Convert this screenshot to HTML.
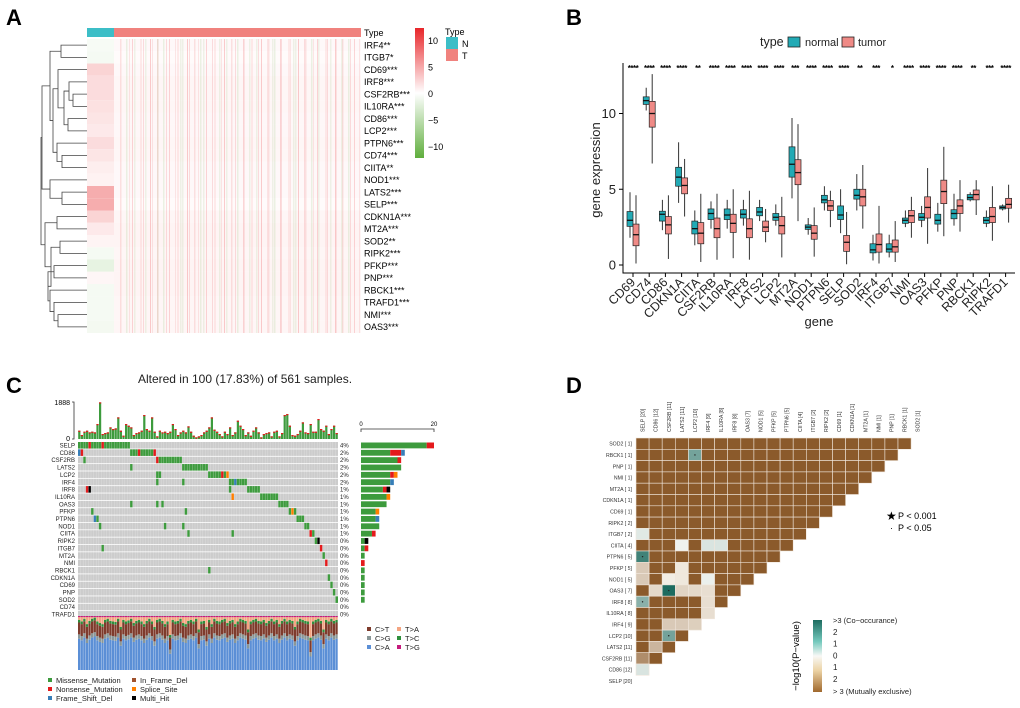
<!DOCTYPE html>
<html><head><meta charset="utf-8"><style>
body{margin:0;background:#fff;width:1020px;height:708px;overflow:hidden}
svg{font-family:"Liberation Sans",Arial,sans-serif;display:block}
</style></head><body>
<svg id="fig" width="1020" height="708" viewBox="0 0 1020 708" xmlns="http://www.w3.org/2000/svg">
<text x="6" y="25" font-size="22" font-weight="bold">A</text>
<text x="566" y="25" font-size="22" font-weight="bold">B</text>
<text x="6" y="393" font-size="22" font-weight="bold">C</text>
<text x="566" y="393" font-size="22" font-weight="bold">D</text>
</svg>
<script>
const NS='http://www.w3.org/2000/svg';
const svg=document.getElementById('fig');
function mk(tag,attrs,txt){const e=document.createElementNS(NS,tag);for(const k in attrs)e.setAttribute(k,attrs[k]);if(txt!==undefined)e.textContent=txt;svg.appendChild(e);return e;}
function mix(a,b,t){const p=s=>[1,3,5].map(i=>parseInt(s.substr(i,2),16));const A=p(a),B=p(b);return 'rgb('+A.map((v,i)=>Math.round(v+(B[i]-v)*t)).join(',')+')';}

/* ================= PANEL A: heatmap ================= */
const aGenes=['IRF4**','ITGB7*','CD69***','IRF8***','CSF2RB***','IL10RA***','CD86***','LCP2***','PTPN6***','CD74***','CIITA**','NOD1***','LATS2***','SELP***','CDKN1A***','MT2A***','SOD2**','RIPK2***','PFKP***','PNP***','RBCK1***','TRAFD1***','NMI***','OAS3***'];
const aNormal=[-0.5,-0.6,2.0,1.6,1.6,1.4,1.2,1.0,1.6,1.2,0.8,0.6,3.8,3.8,2.0,1.0,0.5,-0.6,-1.5,0.4,-0.6,-0.6,-0.6,-0.7];
const aTumor=[0.3,0.2,0.3,0.4,0.4,0.4,0.35,0.35,0.4,0.4,0.3,0.3,0.3,0.2,0.4,0.5,0.5,0.4,0.5,0.5,0.5,0.4,0.4,0.4];
function hcol(v){return v>=0?mix('#ffffff','#e8262a',Math.min(v/10,1)):mix('#ffffff','#5fae3c',Math.min(-v/10,1));}
const hx0=87,hxN=114,hx1=361,hy0=39,rh=12.25;
let el=mk('defs',{});
el.innerHTML='<pattern id="stripes" width="37" height="10" patternUnits="userSpaceOnUse"><rect x="2" width="1" height="10" fill="#e8262a" opacity=".22"/><rect x="9" width="1.5" height="10" fill="#e8262a" opacity=".12"/><rect x="15" width="1.5" height="10" fill="#5fae3c" opacity=".12"/><rect x="21" width="1" height="10" fill="#e8262a" opacity=".18"/><rect x="29" width="2" height="10" fill="#e8262a" opacity=".08"/><rect x="34" width="1.5" height="10" fill="#5fae3c" opacity=".1"/></pattern><pattern id="stripes2" width="23" height="10" patternUnits="userSpaceOnUse"><rect x="5" width="1" height="10" fill="#e8262a" opacity=".14"/><rect x="14" width="1" height="10" fill="#e8262a" opacity=".1"/><rect x="19" width="1.5" height="10" fill="#5fae3c" opacity=".1"/></pattern>';


el=mk('rect',{x:hx0,y:28,width:hxN-hx0,height:9,fill:'#3cbec7'});


el=mk('rect',{x:hxN,y:28,width:hx1-hxN,height:9,fill:'#f0827e'});


el=mk('text',{x:364,y:36,'font-size':9},'Type');


aGenes.forEach((g,i)=>{
  const y=hy0+i*rh;
  let r=mk('rect',{x:hx0,y:y,width:hxN-hx0,height:rh,fill:hcol(aNormal[i])});
  
  
  r=mk('rect',{x:hxN,y:y,width:hx1-hxN,height:rh,fill:hcol(aTumor[i])});
  
  
  r=mk('text',{x:364,y:y+rh/2+3.2,'font-size':9},g);
  
  
});
el=mk('rect',{x:hxN,y:hy0,width:hx1-hxN,height:rh*24,fill:'url(#stripes)'});


el=mk('rect',{x:hxN+11,y:hy0,width:hx1-hxN-11,height:rh*24,fill:'url(#stripes2)'});


function leaf(i){return {x:hx0,y:hy0+(i+0.5)*rh};}
let dpath='';
function j(a,b,x){if(typeof a==='number')a=leaf(a);if(typeof b==='number')b=leaf(b);dpath+=`M${a.x},${a.y}H${x}V${b.y}H${b.x}`;return {x:x,y:(a.y+b.y)/2};}
const A1=j(0,1,61);
const B1=j(4,5,73),B2=j(3,B1,69),B3=j(6,7,68),B4=j(B2,B3,64),B5=j(2,B4,58);
const C1=j(9,10,62),C2=j(8,C1,57);
const D1=j(B5,C2,53),D2=j(A1,D1,50);
const E1=j(12,13,62),E2=j(11,E1,50);
const D3=j(D2,E2,42);
const G1=j(14,15,57),G2=j(16,17,60),G3=j(18,19,54);
const H1=j(22,23,58),H2=j(21,H1,54),H3=j(20,H2,50),G4=j(G3,H3,48),G5=j(G2,G4,51),G6=j(G1,G5,45);
j(D3,G6,41);
el=mk('path',{d:dpath,fill:'none',stroke:'#444','stroke-width':0.8});


el=mk('defs',{});
el.innerHTML='<linearGradient id="hgrad" x1="0" y1="0" x2="0" y2="1"><stop offset="0" stop-color="#e8262a"/><stop offset="0.5" stop-color="#ffffff"/><stop offset="1" stop-color="#5fae3c"/></linearGradient><linearGradient id="dgrad" x1="0" y1="0" x2="0" y2="1"><stop offset="0" stop-color="#1d6b5f"/><stop offset="0.3" stop-color="#74c9bd"/><stop offset="0.5" stop-color="#f8f8f6"/><stop offset="0.7" stop-color="#ecd3a5"/><stop offset="1" stop-color="#a0692e"/></linearGradient>';


el=mk('rect',{x:415,y:28,width:9,height:130,fill:'url(#hgrad)'});


const aTicks=['10','5','0','\u22125','\u221210'];
aTicks.forEach((t,i)=>{const e=mk('text',{x:428,y:44+i*26.5,'font-size':9},t);
  
  });
el=mk('text',{x:445,y:35,'font-size':9},'Type');


el=mk('rect',{x:446,y:37,width:12,height:12,fill:'#3cbec7'});


el=mk('rect',{x:446,y:49,width:12,height:12,fill:'#f0827e'});


el=mk('text',{x:462,y:47,'font-size':9},'N');


el=mk('text',{x:462,y:59,'font-size':9},'T');



/* ================= PANEL B: boxplots ================= */
const bGenes=['CD69','CD74','CD86','CDKN1A','CIITA','CSF2RB','IL10RA','IRF8','LATS2','LCP2','MT2A','NOD1','PTPN6','SELP','SOD2','IRF4','ITGB7','NMI','OAS3','PFKP','PNP','RBCK1','RIPK2','TRAFD1'];
const bNormal=[[1.8,2.55,2.95,3.53,4.8],[10.2,10.6,10.85,11.1,11.7],[2.3,2.9,3.35,3.55,4.3],[4.1,5.2,5.8,6.45,8.1],[1.3,2.05,2.4,2.9,3.6],[2.4,3.0,3.4,3.7,4.2],[2.4,3.0,3.3,3.7,4.3],[2.6,3.1,3.35,3.65,4.3],[2.9,3.25,3.5,3.8,4.3],[2.6,2.95,3.15,3.4,4.0],[4.4,5.8,6.65,7.8,9.7],[2.0,2.35,2.5,2.65,3.1],[3.6,4.1,4.3,4.6,5.2],[2.1,3.0,3.3,3.9,5.0],[3.6,4.35,4.6,5.0,6.0],[0.3,0.8,1.0,1.4,2.0],[0.5,0.85,1.05,1.4,2.0],[2.5,2.75,2.95,3.1,3.6],[2.5,2.95,3.15,3.4,3.9],[2.2,2.7,2.95,3.35,4.1],[2.6,3.05,3.4,3.65,4.7],[4.2,4.3,4.45,4.65,4.8],[2.5,2.75,2.95,3.15,3.6],[3.6,3.7,3.8,3.9,4.0]];
const bTumor=[[0.1,1.27,2.0,2.7,4.6],[6.7,9.1,10.0,10.8,12.6],[0.4,2.05,2.65,3.2,4.6],[3.2,4.7,5.25,5.75,7.0],[0.2,1.4,2.1,2.8,4.7],[0.35,1.8,2.4,3.1,4.7],[0.45,2.15,2.75,3.35,5.0],[0.35,1.8,2.4,3.05,4.9],[1.5,2.2,2.5,2.9,3.7],[0.5,2.05,2.6,3.2,4.5],[2.9,5.3,6.1,6.95,9.3],[0.55,1.7,2.1,2.6,3.8],[2.5,3.6,3.9,4.25,4.9],[0.05,0.9,1.5,1.95,3.5],[2.4,3.9,4.5,5.0,6.6],[0.1,0.85,1.35,2.05,3.9],[0.2,0.85,1.2,1.65,2.9],[1.8,2.8,3.25,3.6,4.5],[1.4,3.1,3.8,4.5,6.4],[1.9,4.05,4.85,5.6,7.8],[2.2,3.4,3.9,4.3,5.6],[3.3,4.3,4.65,4.95,5.6],[1.6,2.8,3.2,3.8,5.2],[2.8,3.75,4.0,4.4,5.3]];
const bStars=['****','****','****','****','**','****','****','****','****','****','***','****','****','****','**','***','*','****','****','****','****','**','***','****'];
const bYTicks=[0,5,10];
const bx=i=>633+i*16.2, by=v=>265-v*15.15;
el=mk('path',{d:'M623,63V273H1015',fill:'none',stroke:'#000','stroke-width':1});


bYTicks.forEach(t=>{
  let e=mk('line',{x1:619,x2:623,y1:by(t),y2:by(t),stroke:'#000'});
  
  
  e=mk('text',{x:616,y:by(t)+4.5,'font-size':13,'text-anchor':'end',fill:'#222'},t);
  
  
});
function drawBox(s,cx,fill,nm){
  let e=mk('line',{x1:cx,x2:cx,y1:by(s[0]),y2:by(s[4]),stroke:'#333','stroke-width':1});
  
  
  e=mk('rect',{x:cx-3,y:by(s[3]),width:6,height:by(s[1])-by(s[3]),fill:fill,stroke:'#222','stroke-width':0.7});
  
  
  e=mk('line',{x1:cx-3,x2:cx+3,y1:by(s[2]),y2:by(s[2]),stroke:'#111','stroke-width':1.3});
  
  
}
bGenes.forEach((g,i)=>{
  const c=bx(i);
  drawBox(bNormal[i],c-3,'#22aab5','box-normal-'+g);
  drawBox(bTumor[i],c+3,'#ef8a86','box-tumor-'+g);
  let e=mk('line',{x1:c,x2:c,y1:273,y2:277,stroke:'#000'});
  
  
  e=mk('text',{x:c+3,y:283,'font-size':12.5,'text-anchor':'end',transform:`rotate(-45 ${c+3} 283)`,fill:'#222'},g);
  
  
  e=mk('text',{x:c,y:71,'font-size':8,'text-anchor':'middle','font-weight':'bold','letter-spacing':'-0.5'},bStars[i]);
  
  
});
el=mk('text',{x:600,y:170,'font-size':13,'text-anchor':'middle',transform:'rotate(-90 600 170)',fill:'#222'},'gene expression');


el=mk('text',{x:819,y:326,'font-size':13,'text-anchor':'middle',fill:'#222'},'gene');


el=mk('text',{x:760,y:46,'font-size':12.5,fill:'#222'},'type');


el=mk('rect',{x:788,y:37,width:12,height:10,fill:'#22aab5',stroke:'#222','stroke-width':0.8});


el=mk('text',{x:805,y:46,'font-size':11,fill:'#222'},'normal');


el=mk('rect',{x:842,y:37,width:12,height:10,fill:'#ef8a86',stroke:'#222','stroke-width':0.8});


el=mk('text',{x:858,y:46,'font-size':11,fill:'#222'},'tumor');



/* ================= PANEL C: oncoplot ================= */
const cGenes=['SELP','CD86','CSF2RB','LATS2','LCP2','IRF4','IRF8','IL10RA','OAS3','PFKP','PTPN6','NOD1','CIITA','RIPK2','ITGB7','MT2A','NMI','RBCK1','CDKN1A','CD69','PNP','SOD2','CD74','TRAFD1'];
const cPct=['4%','2%','2%','2%','2%','2%','1%','1%','1%','1%','1%','1%','1%','0%','0%','0%','0%','0%','0%','0%','0%','0%','0%','0%'];
const cMut=[
 'M0-19,N4,N9','F0,N1,M20-29,N23,N29','M2,N30,M31-39','M20,M40-49','M30,M31,M50-57,N55,S57','M30,M40,M58-64,F60',
 'N3,K4,M58,M65-69','S59,M70-76','M20,M30,M32,M77-80','M5,M41,M81-83,S82','F6,M7,M84-86','M8,M33,M40,M87-88',
 'M42,M59,N89,M90','M91,K92','M9,N93','M94','N95','M50','M96','M97','M98','M99','',''];
const cTmb=[425,204,374,425,340,374,340,765,1870,255,306,340,595,510,544,1105,425,170,765,680,595,204,306,340,425,1224,510,425,1105,374,136,425,340,374,306,374,765,510,204,340,425,340,646,374,170,85,136,204,340,425,595,1105,476,374,255,136,374,255,595,204,340,935,680,510,204,340,170,425,595,340,85,255,306,340,136,374,425,136,306,1224,1275,680,204,170,255,425,850,340,306,765,374,374,1020,510,425,680,255,510,680,306];
const cCA=[.58,.55,.6,.5,.56,.6,.62,.55,.52,.5,.58,.6,.56,.55,.54,.6,.45,.58,.55,.57,.6,.52,.56,.58,.55,.5,.56,.6,.55,.45,.58,.6,.56,.5,.55,.3,.58,.55,.56,.6,.52,.5,.56,.58,.55,.6,.4,.55,.56,.45,.58,.5,.6,.56,.55,.58,.6,.52,.56,.58,.5,.55,.6,.58,.56,.4,.55,.58,.6,.56,.55,.58,.52,.56,.6,.55,.58,.5,.56,.6,.55,.58,.56,.45,.55,.6,.58,.56,.55,.25,.55,.58,.6,.56,.4,.58,.55,.6,.56,.58];
const cFrac={cg:.08,ct:.22,tc:.05,tg:.02};
const mutColor={M:'#3d9b3d',N:'#e41a1c',F:'#377eb8',S:'#ff7f00',K:'#000000'};
const ox0=78,ow=2.6,oy0=442,orh=7.35;
const parsed=cMut.map(s=>{const m={};if(!s)return m;s.split(',').forEach(tok=>{const t=tok[0];const r=tok.slice(1).split('-').map(Number);for(let k=r[0];k<=(r[1]===undefined?r[0]:r[1]);k++)m[k]=t;});return m;});
el=mk('text',{x:245,y:383,'font-size':12,'text-anchor':'middle',fill:'#222'},'Altered in 100 (17.83%) of 561 samples.');


cGenes.forEach((g,i)=>{
  const y=oy0+i*orh;
  let e=mk('rect',{x:ox0,y:y,width:100*ow,height:orh-0.8,fill:'#cccccc'});
  
  
  for(const k in parsed[i]){
    e=mk('rect',{x:ox0+k*ow,y:y,width:ow,height:orh-0.8,fill:mutColor[parsed[i][k]]});
    
    
  }
  e=mk('text',{x:75,y:y+5.5,'font-size':6,'text-anchor':'end',fill:'#222'},g);
  
  
  e=mk('text',{x:340,y:y+5.5,'font-size':6,fill:'#222'},cPct[i]);
  
  
  const cnt={M:0,N:0,F:0,S:0,K:0};for(const k in parsed[i])cnt[parsed[i][k]]++;
  let xx=361;
  ['M','N','F','S','K'].forEach(t=>{if(!cnt[t])return;const w=cnt[t]*73/20;
    const r=mk('rect',{x:xx,y:y+0.5,width:w,height:orh-1.5,fill:mutColor[t]});
    
    
    xx+=w;});
});
el=mk('path',{d:Array.from({length:99},(_,k)=>`M${ox0+(k+1)*ow},${oy0}V${oy0+24*orh}`).join(''),stroke:'#fff','stroke-width':0.3,opacity:0.6});


el=mk('path',{d:'M361,432V429H434V432',fill:'none',stroke:'#333','stroke-width':0.8});


el=mk('text',{x:361,y:426,'font-size':6,'text-anchor':'middle'},'0');


el=mk('text',{x:434,y:426,'font-size':6,'text-anchor':'middle'},'20');


const ty=v=>439-v/1888*37;
el=mk('path',{d:'M72,402H74V439H72',fill:'none',stroke:'#333','stroke-width':0.8});


el=mk('text',{x:70,y:405,'font-size':7,'text-anchor':'end'},'1888');


el=mk('text',{x:70,y:441,'font-size':7,'text-anchor':'end'},'0');


cTmb.forEach((v,k)=>{
  let e=mk('rect',{x:ox0+k*ow+0.2,y:ty(v),width:ow-0.4,height:439-ty(v),fill:'#3d9b3d'});
  
  
  e=mk('rect',{x:ox0+k*ow+0.2,y:ty(v),width:ow-0.4,height:1.2,fill:'#e41a1c'});
  
  
});
const tvTop=616,tvH=54;
cCA.forEach((ca,k)=>{
  const parts=[['#5b8fd6',ca],['#8a9797',cFrac.cg],['#7e3b2c',cFrac.ct],['#2f8f3c',cFrac.tc],['#f4a582',1-ca-cFrac.cg-cFrac.ct-cFrac.tc-cFrac.tg],['#c51b7d',cFrac.tg]];
  let yb=tvTop+tvH;
  parts.forEach(p=>{const h=p[1]*tvH;const r=mk('rect',{x:ox0+k*ow,y:yb-h,width:ow-0.3,height:h,fill:p[0]});
    
    
    yb-=h;});
});
const tvLeg=[['C>T','#7e3b2c',367,632],['C>G','#8a9797',367,641],['C>A','#5b8fd6',367,650],['T>A','#f4a582',397,632],['T>C','#2f8f3c',397,641],['T>G','#c51b7d',397,650]];
tvLeg.forEach(l=>{let e=mk('rect',{x:l[2],y:l[3]-5,width:4,height:4,fill:l[1]});
  
  
  e=mk('text',{x:l[2]+8,y:l[3],'font-size':7.5,fill:'#222'},l[0]);
  
  });
const vLeg=[['Missense_Mutation','#3d9b3d',48,683],['Nonsense_Mutation','#e41a1c',48,692],['Frame_Shift_Del','#377eb8',48,701],['In_Frame_Del','#a0522d',132,683],['Splice_Site','#ff7f00',132,692],['Multi_Hit','#000000',132,701]];
vLeg.forEach(l=>{let e=mk('rect',{x:l[2],y:l[3]-5,width:4,height:4,fill:l[1]});
  
  
  e=mk('text',{x:l[2]+8,y:l[3],'font-size':7.5,fill:'#222'},l[0]);
  
  });

/* ================= PANEL D: co-occurrence ================= */
const dCols=['SELP [20]','CD86 [12]','CSF2RB [11]','LATS2 [11]','LCP2 [10]','IRF4 [9]','IL10RA [8]','IRF8 [8]','OAS3 [7]','NOD1 [5]','PFKP [5]','PTPN6 [5]','CIITA [4]','ITGB7 [2]','RIPK2 [2]','CD69 [1]','CDKN1A [1]','MT2A [1]','NMI [1]','PNP [1]','RBCK1 [1]','SOD2 [1]'];
const dRows=['SOD2 [ 1]','RBCK1 [ 1]','PNP [ 1]','NMI [ 1]','MT2A [ 1]','CDKN1A [ 1]','CD69 [ 1]','RIPK2 [ 2]','ITGB7 [ 2]','CIITA [ 4]','PTPN6 [ 5]','PFKP [ 5]','NOD1 [ 5]','OAS3 [ 7]','IRF8 [ 8]','IL10RA [ 8]','IRF4 [ 9]','LCP2 [10]','LATS2 [11]','CSF2RB [11]','CD86 [12]','SELP [20]'];
const dCells=[[1,4,1.8],[8,0,0.3],[9,3,0.1],[9,5,0.4],[9,6,0.4],[10,0,2.5],[11,0,-0.8],[11,3,-0.2],[12,0,-0.8],[12,2,-0.1],[12,3,-0.2],[12,5,0.15],[13,1,-0.5],[13,2,3],[13,3,-0.6],[13,4,-0.5],[13,5,-0.4],[14,0,1.5],[14,5,-0.4],[15,5,-0.4],[16,2,-0.8],[16,3,-0.8],[16,4,-0.7],[17,2,1.8],[18,1,-1.2],[19,0,-2],[20,0,0.4]];
const dSig=[[1,4],[10,0],[13,2],[14,0],[17,2]];
function dcol(v){return v>=0?mix('#f6f7f4','#1d6b5f',Math.min(v/3,1)):mix('#f6f2ea','#8b5a2b',Math.min(-v/3,1));}
const dx0=636,dcw=13.1,dy0=438,drh=11.3;
const dval={};dCells.forEach(c=>dval[c[0]+'_'+c[1]]=c[2]);
dRows.forEach((r,i)=>{
  const n=21-i;
  for(let c=0;c<n;c++){
    const v=dval[i+'_'+c]!==undefined?dval[i+'_'+c]:-3;
    const e=mk('rect',{x:dx0+c*dcw,y:dy0+i*drh,width:dcw,height:drh,fill:dcol(v),stroke:'#f1e6dc','stroke-width':0.6});
    
    
  }
  const t=mk('text',{x:632,y:dy0+i*drh+drh/2+2,'font-size':5.2,'text-anchor':'end',fill:'#333'},r);
  
  
});
dSig.forEach(s=>{const e=mk('circle',{cx:dx0+(s[1]+0.5)*dcw,cy:dy0+(s[0]+0.5)*drh,r:0.7,fill:'#222'});
  
  });
dCols.forEach((c,k)=>{const x=dx0+(k+0.5)*dcw+2;const t=mk('text',{x:x,y:432,'font-size':5.2,fill:'#333',transform:`rotate(-90 ${x} 432)`},c);
  
  });
el=mk('text',{x:886,y:520,'font-size':12},'\u2605');


el=mk('text',{x:898,y:519,'font-size':9},'P < 0.001');


el=mk('text',{x:890,y:531,'font-size':9},'\u00b7');


el=mk('text',{x:898,y:531,'font-size':9},'P < 0.05');


el=mk('rect',{x:813,y:620,width:9,height:72,fill:'url(#dgrad)'});


const dTicks=['>3 (Co\u2212occurance)','2','1','0','1','2','> 3 (Mutually exclusive)'];
dTicks.forEach((t,i)=>{const e=mk('text',{x:833,y:623+i*11.8,'font-size':i===0||i===6?7.5:8,fill:'#222'},t);
  
  });
el=mk('text',{x:799,y:656,'font-size':9.5,'text-anchor':'middle',transform:'rotate(-90 799 656)'},'\u2212log10(P\u2212value)');


</script>
</body></html>
